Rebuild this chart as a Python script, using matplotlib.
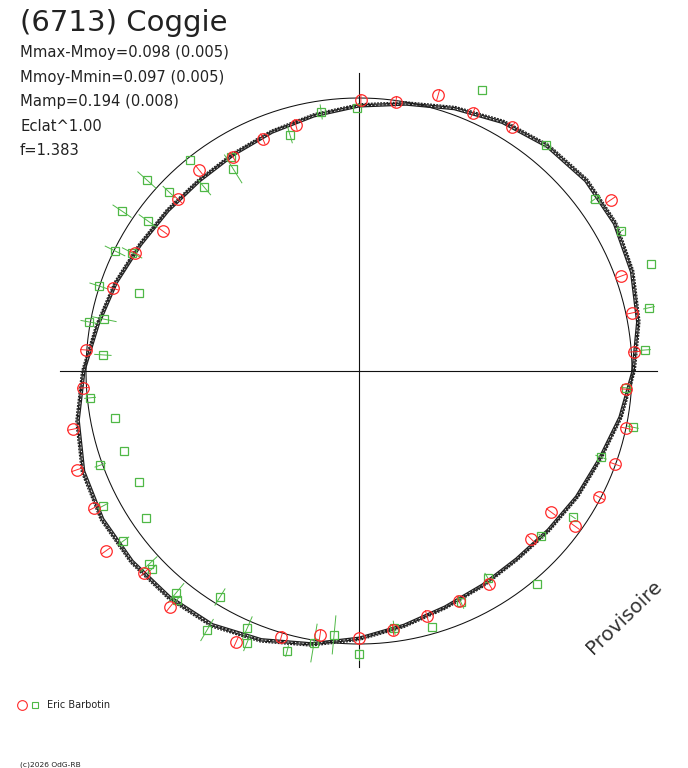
import numpy as np
import matplotlib.pyplot as plt

plt.rcParams['font.family'] = ['DejaVu Sans']

# polar light curve: phase in degrees, radius relative to mean (1.0)
red_phase = [89.6, 82.2, 74.0, 66.2, 57.9, 34.2, 19.9, 12.0, 4.0, 356.1,
             347.9, 340.0, 332.3, 323.7, 324.3, 315.7, 301.4, 293.5, 285.5, 277.5,
             270.0, 261.6, 253.7, 245.6, 231.3, 223.2, 215.4, 207.3, 199.3, 191.5,
             183.5, 175.6, 161.4, 152.2, 144.5, 136.5, 128.5, 120.5, 112.5, 104.4]
red_r = [0.993, 0.995, 1.052, 1.033, 1.055, 1.115, 1.021, 1.022, 1.010, 0.980,
         1.000, 0.998, 0.993, 0.873, 0.974, 0.881, 0.914, 0.919, 0.931, 0.957,
         0.978, 0.978, 1.015, 1.090, 1.108, 1.081, 1.137, 1.093, 1.095, 1.069,
         1.013, 1.003, 0.951, 0.927, 0.882, 0.915, 0.941, 0.910, 0.920, 0.930]
red_err = 0.02

green_phase = [90.4, 98.3, 106.3, 120.9, 121.9, 128.7, 130.1, 136.7, 138.0, 146.0,
               144.6, 153.8, 152.5, 160.5, 161.9, 168.5, 169.7, 176.4, 66.4, 50.4,
               36.1, 28.1, 20.1, 12.3, 4.2, 356.4, 348.4, 340.4, 325.7, 317.8,
               309.9, 301.9, 293.8, 285.9, 277.8, 270.0, 185.7, 190.9, 198.8, 200.0,
               206.8, 207.8, 214.6, 215.8, 222.6, 223.7, 230.5, 231.5, 238.4, 239.6,
               246.5, 247.6, 255.6, 260.6, 264.6]
green_r = [0.963, 0.959, 0.901, 0.913, 0.872, 0.990, 0.879, 0.956, 1.045, 1.047,
           0.948, 0.996, 0.937, 0.855, 1.002, 0.953, 1.005, 0.940, 1.124, 1.074,
           1.070, 1.088, 1.139, 1.087, 1.050, 0.980, 1.024, 0.941, 0.949, 0.900,
           1.017, 0.893, 0.925, 0.975, 0.950, 1.037, 0.990, 0.910, 0.909, 1.009,
           0.903, 1.060, 0.948, 1.065, 1.045, 1.049, 1.054, 1.071, 0.972, 1.100,
           1.027, 1.078, 1.059, 1.010, 0.971]
green_err = [0.0, 0.026, 0.03, 0.0, 0.06, 0.0, 0.035, 0.03, 0.045, 0.04,
             0.04, 0.04, 0.04, 0.0, 0.035, 0.045, 0.03, 0.03, 0.0, 0.01,
             0.02, 0.01, 0.0, 0.02, 0.02, 0.02, 0.02, 0.02, 0.01, 0.01,
             0.0, 0.02, 0.025, 0.0, 0.025, 0.02, 0.02, 0.0, 0.0, 0.02,
             0.0, 0.02, 0.0, 0.025, 0.04, 0.02, 0.045, 0.02, 0.035, 0.045,
             0.045, 0.03, 0.02, 0.07, 0.07]

fit_phase = list(range(0, 360, 10))
fit_r = [1.007, 1.040, 1.066, 1.084, 1.088, 1.077, 1.055, 1.026, 0.996, 0.974,
         0.952, 0.934, 0.919, 0.912, 0.916, 0.927, 0.949, 0.974, 1.011, 1.048,
         1.077, 1.088, 1.088, 1.084, 1.077, 1.051, 1.018, 0.982, 0.949, 0.923,
         0.908, 0.901, 0.908, 0.923, 0.941, 0.974]

stats = ['Mmax-Mmoy=0.098 (0.005)', 'Mmoy-Mmin=0.097 (0.005)',
         'Mamp=0.194 (0.008)', 'Eclat^1.00', 'f=1.383']

RED = '#ff2a2a'
GREEN = '#4fb846'
W, H = 688, 768
PX = 273.0
cx, cy = 359, 371


def to_xy(phase, r):
    t = np.radians(np.asarray(phase, dtype=float))
    r = np.asarray(r, dtype=float)
    return r * np.cos(t), r * np.sin(t)


fig = plt.figure(figsize=(W / 100, H / 100), dpi=100)
ax = fig.add_axes([0, 0, 1, 1])
ax.set_xlim(-cx / PX, (W - cx) / PX)
ax.set_ylim((cy - H) / PX, cy / PX)
ax.axis('off')

# cross hair
ax.plot([-1.095, 1.092], [0, 0], color='#111111', lw=0.8)
ax.plot([0, 0], [-1.084, 1.092], color='#111111', lw=0.8)

# mean circle
t = np.linspace(0, 2 * np.pi, 400)
ax.plot(np.cos(t), np.sin(t), color='#111111', lw=0.75)

# fitted curve, drawn as a band of slightly offset curves
fp = fit_phase + [fit_phase[0] + 360]
fr = np.array(fit_r + [fit_r[0]])
for off, ls in [(-0.007, '-'), (-0.003, (0, (2, 1))), (0.001, '-'), (0.005, (0, (1.5, 1)))]:
    x, y = to_xy(fp, fr * (1 + off))
    ax.plot(x, y, color='#1e1e1e', lw=0.9, ls=ls)

# green points with radial error bars
for p, r, e in zip(green_phase, green_r, green_err):
    if e > 0:
        x, y = to_xy([p, p], [r - e, r + e])
        ax.plot(x, y, color=GREEN, lw=0.7)
gx, gy = to_xy(green_phase, green_r)
ax.plot(gx, gy, 's', ms=5.8, mfc='none', mec=GREEN, mew=0.9)

# red points with radial error bars
for p, r in zip(red_phase, red_r):
    x, y = to_xy([p, p], [r - red_err, r + red_err])
    ax.plot(x, y, color=RED, lw=0.7)
rx, ry = to_xy(red_phase, red_r)
ax.plot(rx, ry, 'o', ms=8.3, mfc='none', mec=RED, mew=0.9)

# texts
fig.text(20 / W, 1 - 31 / H, '(6713) Coggie', fontsize=21, color='#222222', va='baseline')
for i, s in enumerate(stats):
    fig.text(20 / W, 1 - (57 + 24.6 * i) / H, s, fontsize=10.6, color='#222222', va='baseline')

fig.text(624 / W, 1 - 617 / H, 'Provisoire', fontsize=14.3, color='#333333',
         rotation=44, ha='center', va='center')

# legend
ax.plot([22 / W], [1 - 705 / H], 'o', ms=7, mfc='none', mec=RED, mew=0.8, transform=fig.transFigure)
ax.plot([35 / W], [1 - 705 / H], 's', ms=5, mfc='none', mec=GREEN, mew=0.8, transform=fig.transFigure)
fig.text(47 / W, 1 - 708 / H, 'Eric Barbotin', fontsize=7, color='#222222', va='baseline')

fig.text(20 / W, 1 - 766 / H, '(c)2026 OdG-RB', fontsize=5.4, color='#222222', va='baseline')

fig.savefig('out.png', dpi=100)
